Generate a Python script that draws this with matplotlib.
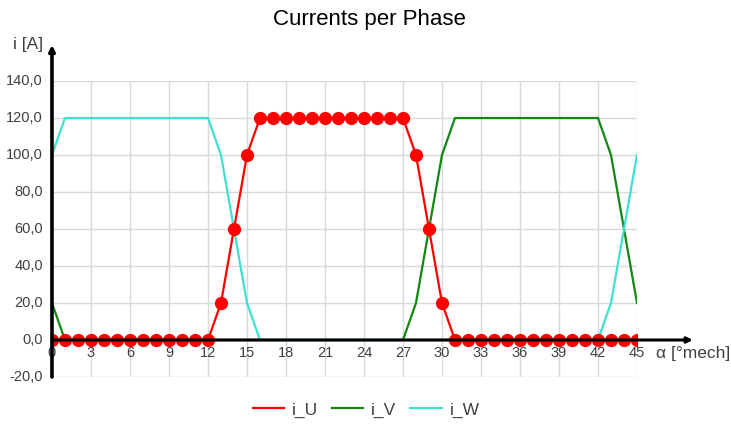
import matplotlib.pyplot as plt
import numpy as np

plt.rcParams['font.family'] = ['Liberation Sans', 'DejaVu Sans']

alpha = list(range(46))
i_U = [0] * 13 + [20, 60, 100] + [120] * 12 + [100, 60, 20] + [0] * 15
i_V = [20] + [0] * 27 + [20, 60, 100] + [120] * 12 + [100, 60, 20]
i_W = [100] + [120] * 12 + [100, 60, 20] + [0] * 27 + [20, 60, 100]

x_ticks = list(range(0, 46, 3))
y_ticks = [-20, 0, 20, 40, 60, 80, 100, 120, 140]

fig = plt.figure(figsize=(7.31, 4.28), dpi=100)
ax = fig.add_axes([0.0711, 0.1192, 0.8003, 0.6915])

ax.plot(alpha, i_U, color='#ff0000', lw=1.6, marker='o', markersize=8.5, label='i_U', zorder=4)
ax.plot(alpha, i_V, color='#118811', lw=1.6, label='i_V', zorder=3)
ax.plot(alpha, i_W, color='#40e0d0', lw=1.6, label='i_W', zorder=3)

ax.set_xlim(0, 45)
ax.set_ylim(-20, 140)
ax.set_xticks(x_ticks)
ax.set_yticks(y_ticks)
ax.grid(True, color='#d9d9d9', lw=1)
ax.set_axisbelow(True)
for s in ax.spines.values():
    s.set_visible(False)
ax.tick_params(length=0)
ax.set_xticklabels([])
ax.set_yticklabels([])

# tick labels
for t in x_ticks:
    ax.text(t, -3, str(t), ha='center', va='top', fontsize=10.5, color='#404040')
for v in y_ticks:
    ax.text(-0.7, v, f'{v:.1f}'.replace('.', ','), ha='right', va='center',
            fontsize=10.5, color='#404040')

# axes with arrows
ax.annotate('', xy=(49.3, 0), xytext=(0, 0), annotation_clip=False,
            arrowprops=dict(arrowstyle='-|>', color='black', lw=2.2,
                            mutation_scale=8, shrinkA=0, shrinkB=0), zorder=5)
ax.annotate('', xy=(0, 159.5), xytext=(0, -20), annotation_clip=False,
            arrowprops=dict(arrowstyle='-|>', color='black', lw=2.6,
                            mutation_scale=8, shrinkA=0, shrinkB=0), zorder=5)

ax.text(-0.7, 160, 'i [A]', ha='right', va='center', fontsize=12.5, color='#404040')
ax.text(46.5, -3, 'α [°mech]', ha='left', va='top', fontsize=12.5, color='#404040')

fig.text(0.505, 0.955, 'Currents per Phase', ha='center', va='center', fontsize=16, color='black')

fig.legend(loc='center', bbox_to_anchor=(0.501, 0.042), ncol=3, frameon=False,
           fontsize=12.5, handlelength=1.8, columnspacing=0.8, handletextpad=0.45,
           labelcolor='#404040')
for h in fig.legends[0].legend_handles:
    h.set_marker('')

fig.savefig('out.png', dpi=100)
